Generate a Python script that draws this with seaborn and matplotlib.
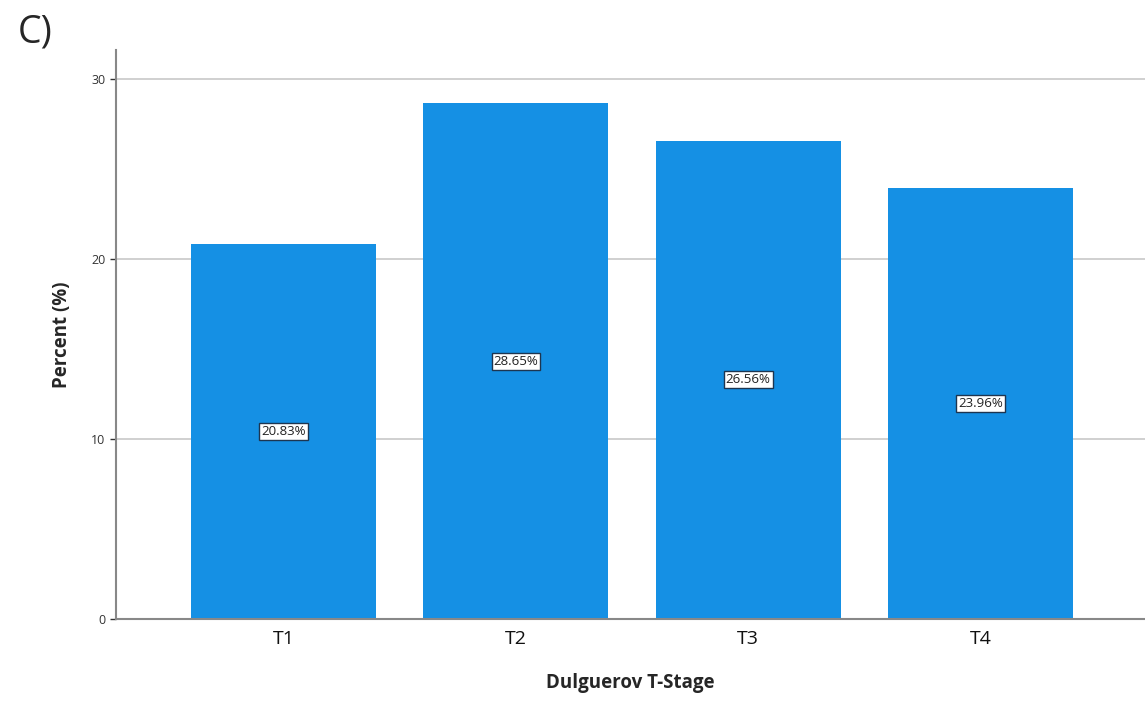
import matplotlib
matplotlib.use("Agg")
import matplotlib.pyplot as plt
import seaborn as sns
import pandas as pd

# data
stages = ["T1", "T2", "T3", "T4"]
percents = [20.83, 28.65, 26.56, 23.96]
yticks = [0, 10, 20, 30]

df = pd.DataFrame({"stage": stages, "percent": percents})

sns.set_style("white")
plt.rcParams['font.family'] = ['Open Sans', 'DejaVu Sans']

fig = plt.figure(figsize=(11.45, 7.03), dpi=100)
ax = fig.add_axes([116 / 1145, 84 / 703, 1 - 116 / 1145, 569 / 703])

sns.barplot(data=df, x="stage", y="percent", color="#1590E4", saturation=1,
            width=0.797, linewidth=0, edgecolor="none", ax=ax, zorder=2)

ax.set_ylim(0, 31.6)
ax.set_xlim(-0.722, 3.709)
ax.set_yticks(yticks)
ax.yaxis.grid(True, color="#c8c8c8", linewidth=1.2, zorder=0)
ax.set_axisbelow(True)
ax.tick_params(axis="y", labelsize=9, colors="#333333", length=4, width=1, left=True)
ax.tick_params(axis="x", labelsize=14, colors="#111111", length=0, pad=8)
for side in ["top", "right"]:
    ax.spines[side].set_visible(False)
for side in ["left", "bottom"]:
    ax.spines[side].set_color("#888888")
    ax.spines[side].set_linewidth(1.5)

for i, v in enumerate(percents):
    ax.text(i, v / 2, f"{v:.2f}%", ha="center", va="center", fontsize=9.5,
            color="#222222", zorder=5,
            bbox=dict(boxstyle="square,pad=0.15", facecolor="white",
                      edgecolor="#1d3550", linewidth=1))

ax.set_xlabel("Dulguerov T-Stage", fontsize=13.5, fontweight="bold", labelpad=18)
ax.set_ylabel("Percent (%)", fontsize=13.5, fontweight="bold", labelpad=14)

fig.text(18 / 1145, 1 - 32 / 703, "C)", fontsize=27, va="center", ha="left")

fig.savefig("out.png", dpi=100)
